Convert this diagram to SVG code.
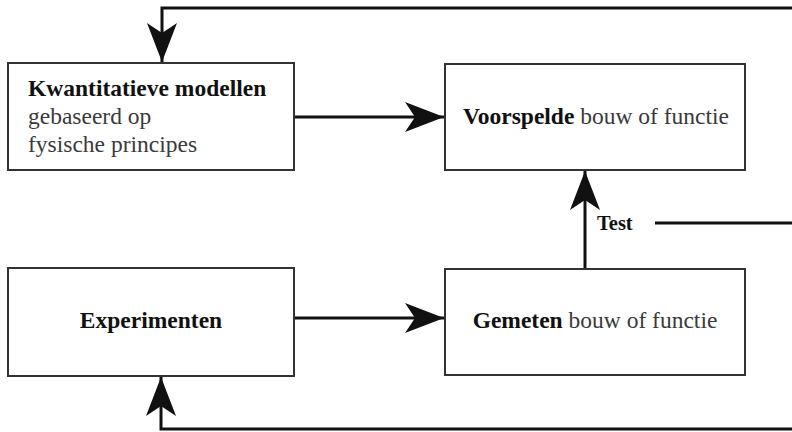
<svg xmlns="http://www.w3.org/2000/svg" width="792" height="432" viewBox="0 0 792 432">
<style>
.box{fill:#fff;stroke:#333;stroke-width:2}
.t{font-family:"Liberation Serif","Times New Roman",serif;font-size:23.5px;fill:#3a3a3a}
.b{font-weight:bold;fill:#111}
.c{fill:none;stroke:#111;stroke-width:3}
</style>
<defs>
<marker id="ah" markerUnits="userSpaceOnUse" viewBox="-40 -16 42 32" markerWidth="42" markerHeight="32" refX="0" refY="0" orient="auto">
<path d="M0,0 L-39,-15 L-29,0 L-39,15 Z" fill="#111"/>
</marker>
</defs>
<rect width="792" height="432" fill="#fff"/>
<g id="connectors">
<path class="c" d="M795,8 H162 V62" marker-end="url(#ah)"/>
<path class="c" d="M795,429 H161 V377" marker-end="url(#ah)"/>
<path class="c" d="M294,117 H444" marker-end="url(#ah)"/>
<path class="c" d="M294,318 H444" marker-end="url(#ah)"/>
<path class="c" d="M585,269 V171" marker-end="url(#ah)"/>
<path class="c" d="M655,223 H795"/>
<text class="t b" x="597" y="230" style="font-size:20.5px">Test</text>
</g>
<g id="n1">
<rect class="box" x="8" y="63" width="286" height="107"/>
<text class="t" x="28" y="96"><tspan class="b">Kwantitatieve modellen</tspan><tspan x="28" y="124">gebaseerd op</tspan><tspan x="28" y="152">fysische principes</tspan></text>
</g>
<g id="n2">
<rect class="box" x="445" y="64" width="300" height="106"/>
<text class="t" x="596" y="124" text-anchor="middle"><tspan class="b">Voorspelde</tspan> bouw of functie</text>
</g>
<g id="n3">
<rect class="box" x="8" y="268" width="286" height="108"/>
<text class="t b" x="151" y="328" text-anchor="middle">Experimenten</text>
</g>
<g id="n4">
<rect class="box" x="445" y="269" width="300" height="106"/>
<text class="t" x="595" y="328" text-anchor="middle"><tspan class="b">Gemeten</tspan> bouw of functie</text>
</g>
</svg>
